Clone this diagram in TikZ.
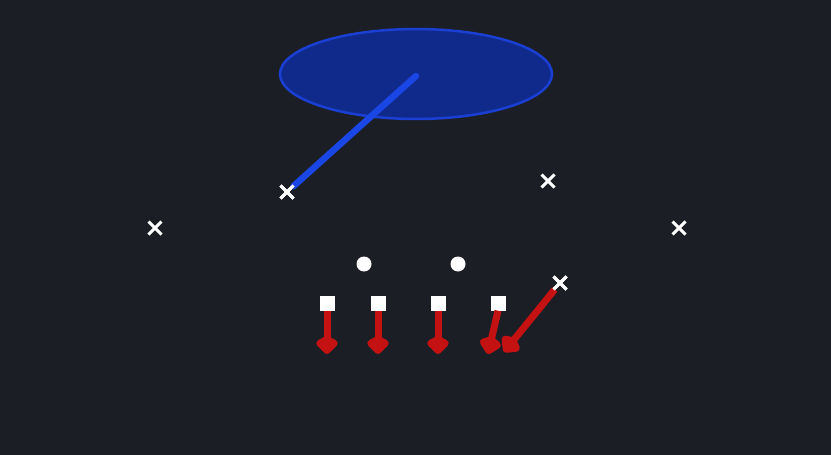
\documentclass[tikz,border=0pt]{standalone}
\usetikzlibrary{arrows.meta,shapes.geometric,shapes.misc}
\definecolor{bg}{HTML}{1B1E25}
\definecolor{zonefill}{HTML}{102A8C}
\definecolor{zoneline}{HTML}{1B3FD2}
\definecolor{bluepath}{HTML}{1A46E6}
\definecolor{redpath}{HTML}{C41212}
\tikzset{
  defender/.style={cross out,draw=white,line width=3pt,minimum size=10pt,inner sep=0pt},
  lineman/.style={rectangle,fill=white,minimum size=15pt,inner sep=0pt},
  back/.style={circle,fill=white,minimum size=15pt,inner sep=0pt},
  zone/.style={ellipse,fill=zonefill,draw=zoneline,line width=2.5pt,minimum width=272pt,minimum height=90pt},
  cover/.style={draw=bluepath,line width=6.5pt,line cap=round},
  block/.style={draw=redpath,line width=7pt,line join=round,-{Kite[width=26pt,length=20pt,inset=7pt,round]}}
}
\begin{document}
\begin{tikzpicture}[x=1pt,y=-1pt]
\fill[bg] (0,0) rectangle (831,455);
\useasboundingbox (0,0) rectangle (831,455);
\node[zone] (z) at (416,74) {};
\coordinate (zc) at (416,76);
\node[defender] (d1) at (287,192) {};
\node[defender] (d2) at (155,228) {};
\node[defender] (d3) at (548,181) {};
\node[defender] (d4) at (679,228) {};
\node[defender] (d5) at (560,283) {};
\draw[cover] (zc) -- (d1);
\node[defender] at (287,192) {};
\node[back] (b1) at (364,264) {};
\node[back] (b2) at (458,264) {};
\node[lineman] (l1) at (327,303) {};
\node[lineman] (l2) at (378,303) {};
\node[lineman] (l3) at (438,303) {};
\node[lineman] (l4) at (498,303) {};
\coordinate (e1) at (327,354);
\coordinate (e2) at (378,354);
\coordinate (e3) at (438,354);
\coordinate (e4) at (488,354);
\coordinate (e5) at (504,352);
\draw[block] (l1.south) -- (e1);
\draw[block] (l2.south) -- (e2);
\draw[block] (l3.south) -- (e3);
\draw[block] (l4.south) -- (e4);
\draw[block] (d5) -- (e5);
\node[defender] at (560,283) {};
\end{tikzpicture}
\end{document}
